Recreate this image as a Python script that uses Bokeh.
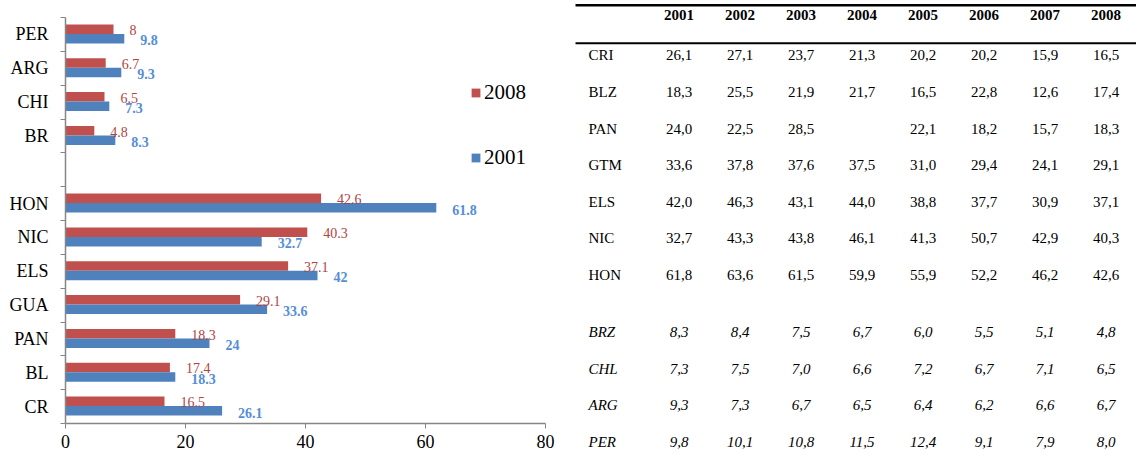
from bokeh.plotting import figure
from bokeh.layouts import row
from bokeh.models import Range1d, FixedTicker, Legend, LegendItem, ColumnDataSource
from bokeh.core.properties import value
from bokeh.embed import file_html
from bokeh.resources import INLINE

# ---------------- chart data (bottom to top); "" marks the gap between groups
categories = ["CR", "BL", "PAN", "GUA", "ELS", "NIC", "HON", "", "BR", "CHI", "ARG", "PER"]
values_2008 = [16.5, 17.4, 18.3, 29.1, 37.1, 40.3, 42.6, None, 4.8, 6.5, 6.7, 8]
values_2001 = [26.1, 18.3, 24, 33.6, 42, 32.7, 61.8, None, 8.3, 7.3, 9.3, 9.8]
series_names = ["2008", "2001"]
x_ticks = [0, 20, 40, 60, 80]

# ---------------- table data
table_years = ["2001", "2002", "2003", "2004", "2005", "2006", "2007", "2008"]
table_rows = ["CRI", "BLZ", "PAN", "GTM", "ELS", "NIC", "HON", "BRZ", "CHL", "ARG", "PER"]
table_italic = [False, False, False, False, False, False, False, True, True, True, True]
row_CRI = [26.1, 27.1, 23.7, 21.3, 20.2, 20.2, 15.9, 16.5]
row_BLZ = [18.3, 25.5, 21.9, 21.7, 16.5, 22.8, 12.6, 17.4]
row_PAN = [24.0, 22.5, 28.5, None, 22.1, 18.2, 15.7, 18.3]
row_GTM = [33.6, 37.8, 37.6, 37.5, 31.0, 29.4, 24.1, 29.1]
row_ELS = [42.0, 46.3, 43.1, 44.0, 38.8, 37.7, 30.9, 37.1]
row_NIC = [32.7, 43.3, 43.8, 46.1, 41.3, 50.7, 42.9, 40.3]
row_HON = [61.8, 63.6, 61.5, 59.9, 55.9, 52.2, 46.2, 42.6]
row_BRZ = [8.3, 8.4, 7.5, 6.7, 6.0, 5.5, 5.1, 4.8]
row_CHL = [7.3, 7.5, 7.0, 6.6, 7.2, 6.7, 7.1, 6.5]
row_ARG = [9.3, 7.3, 6.7, 6.5, 6.4, 6.2, 6.6, 6.7]
row_PER = [9.8, 10.1, 10.8, 11.5, 12.4, 9.1, 7.9, 8.0]
table_values = [row_CRI, row_BLZ, row_PAN, row_GTM, row_ELS, row_NIC, row_HON,
                row_BRZ, row_CHL, row_ARG, row_PER]

SERIF = value("Liberation Serif")
AXIS_GREY = "#868686"
RED, BLUE = "#c0504d", "#4f81bd"
RED_LBL, BLUE_LBL = "#b0433f", "#558ed5"
TOP, BOTTOM = 17, 43

# ================= chart =================
p = figure(width=575, height=466, x_range=Range1d(0, 80), y_range=Range1d(-0.5, len(categories) - 0.5),
           output_backend="svg", toolbar_location=None,
           min_border_left=65, min_border_right=30, min_border_top=TOP, min_border_bottom=BOTTOM)
p.xgrid.visible = False
p.ygrid.visible = False
p.outline_line_color = None

idx = [i for i, c in enumerate(categories) if c]
src = ColumnDataSource(dict(
    y_red=[i + 0.155 for i in idx],
    y_blue=[i - 0.125 for i in idx],
    ly_red=[i + 0.13 for i in idx],
    ly_blue=[i - 0.175 for i in idx],
    v08=[values_2008[i] for i in idx],
    v01=[values_2001[i] for i in idx],
    t08=[f"{values_2008[i]:g}" for i in idx],
    t01=[f"{values_2001[i]:g}" for i in idx],
))

r_red = p.hbar(y="y_red", left=0, right="v08", height=0.28, source=src,
               fill_color=RED, line_color=None)
r_blue = p.hbar(y="y_blue", left=0, right="v01", height=0.28, source=src,
                fill_color=BLUE, line_color=None)

p.text(x="v08", y="ly_red", text="t08", source=src, x_offset=16, text_align="left",
       text_baseline="middle", text_font=SERIF, text_font_size="14px", text_color=RED_LBL)
p.text(x="v01", y="ly_blue", text="t01", source=src, x_offset=16, text_align="left",
       text_baseline="middle", text_font=SERIF, text_font_size="14px", text_color=BLUE_LBL,
       text_font_style="bold")

legend = Legend(items=[LegendItem(label=series_names[0], renderers=[r_red]),
                       LegendItem(label=series_names[1], renderers=[r_blue])],
                location=(405, 253), orientation="vertical",
                glyph_width=11, glyph_height=11, label_height=20, spacing=40,
                padding=0, margin=0, border_line_color=None, background_fill_alpha=0,
                label_text_font="Liberation Serif", label_text_font_size="21px",
                label_standoff=3, label_text_baseline="middle", label_text_color="black")
p.add_layout(legend)

yax = p.yaxis[0]
yax.ticker = FixedTicker(ticks=idx, minor_ticks=[i - 0.5 for i in range(len(categories) + 1)])
yax.major_label_overrides = {i: categories[i] for i in idx}
yax.major_tick_line_color = None
yax.major_tick_out = 5
yax.major_tick_in = 0
yax.minor_tick_line_color = AXIS_GREY
yax.minor_tick_out = 5
yax.minor_tick_in = 0
yax.axis_line_color = AXIS_GREY
yax.axis_line_width = 1.5
yax.major_label_text_font = "Liberation Serif"
yax.major_label_text_font_size = "18px"
yax.major_label_text_color = "black"
yax.major_label_standoff = 12

xax = p.xaxis[0]
xax.ticker = FixedTicker(ticks=x_ticks, minor_ticks=[])
xax.major_tick_in = 0
xax.major_tick_out = 5
xax.major_tick_line_color = AXIS_GREY
xax.minor_tick_line_color = None
xax.axis_line_color = AXIS_GREY
xax.axis_line_width = 1.5
xax.major_label_text_font = "Liberation Serif"
xax.major_label_text_font_size = "18px"
xax.major_label_text_color = "black"
xax.major_label_standoff = 6

# ================= table =================
# one x unit = one year column (61 px), one y unit = one table row (36.6 px)
X0, X1 = -1.697, 7.5
t = figure(width=561, height=466, x_range=Range1d(X0, X1), y_range=Range1d(10.055, -1.038),
           output_backend="svg", toolbar_location=None,
           min_border_left=0, min_border_right=0, min_border_top=TOP, min_border_bottom=BOTTOM,
           x_axis_location=None, y_axis_location=None)
t.xgrid.visible = False
t.ygrid.visible = False
t.outline_line_color = None

header_y = -1.093
label_x = -1.484
rule_y = [-1.374, -0.336]
rule_w = [2.5, 2]
row_y = [r if r < 7 else r + 0.557 for r in range(len(table_rows))]

for yy, ww in zip(rule_y, rule_w):
    rs = t.segment(x0=[X0], x1=[X1], y0=[yy], y1=[yy], line_color="black", line_width=ww)
    rs.level = "overlay"

rh = t.text(x=list(range(len(table_years))), y=[header_y] * len(table_years), text=table_years,
            text_align="center", text_baseline="middle", text_font=SERIF, text_font_size="15px",
            text_font_style="bold", text_color="black")
rh.level = "overlay"

for style in (False, True):
    xs, ys, tx = [], [], []
    for r, name in enumerate(table_rows):
        if table_italic[r] != style:
            continue
        xs.append(label_x); ys.append(row_y[r]); tx.append(name)
    rl = t.text(x=xs, y=ys, text=tx, text_align="left", text_baseline="middle", text_font=SERIF,
                text_font_size="15px", text_font_style="italic" if style else "normal", text_color="black")
    rl.level = "overlay"
    xs, ys, tx = [], [], []
    for r, vals in enumerate(table_values):
        if table_italic[r] != style:
            continue
        for c, v in enumerate(vals):
            if v is None:
                continue
            xs.append(c); ys.append(row_y[r]); tx.append(f"{v:.1f}".replace(".", ","))
    rv = t.text(x=xs, y=ys, text=tx, text_align="center", text_baseline="middle", text_font=SERIF,
                text_font_size="15px", text_font_style="italic" if style else "normal", text_color="black")
    rv.level = "overlay"

layout = row(p, t)
open("out.html", "w").write(file_html(layout, INLINE))
